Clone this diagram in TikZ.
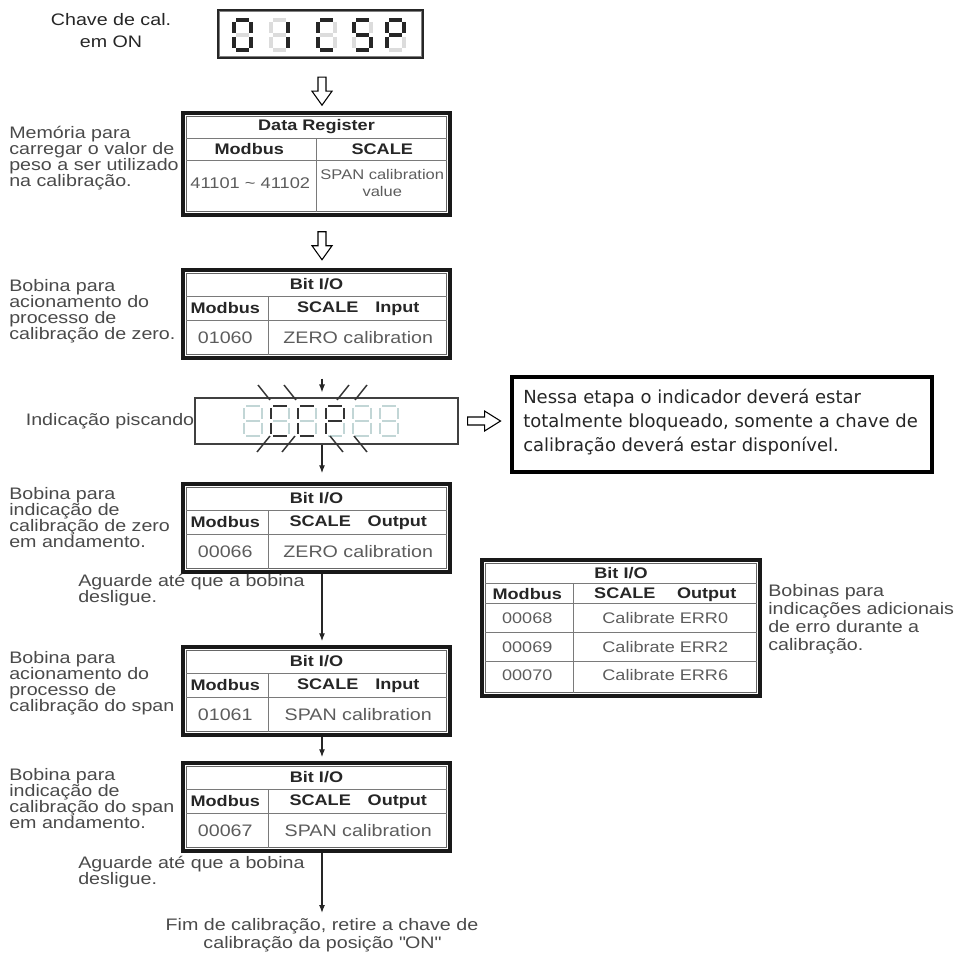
\documentclass[tikz,border=0pt]{standalone}
\usepackage{fontspec}
\setmainfont[FakeStretch=1.18]{Liberation Sans}
\newfontfamily\notefont{DejaVu Sans}
\usetikzlibrary{arrows.meta,positioning,calc,fit}
\definecolor{cinzatxt}{HTML}{4A4A4A}
\definecolor{cinzaval}{HTML}{5C5C5C}
\definecolor{cinzalin}{HTML}{7A7A7A}
\definecolor{apagado}{HTML}{DCDCDC}
\definecolor{apagadoaz}{HTML}{C2D6D6}

\tikzset{
  lbl/.style={font=\fontsize{12.5}{12}\selectfont, text=cinzatxt, align=left, anchor=north west, inner sep=0pt},
  cab/.style={font=\fontsize{11.5}{12}\selectfont\bfseries, text=black!85, inner sep=0pt},
  val/.style={font=\fontsize{12.5}{13}\selectfont, text=cinzaval, inner sep=0pt, align=center},
  valp/.style={val, font=\fontsize{11.5}{13}\selectfont},
  moldura/.style={draw=black!90, line width=2.6pt, inner sep=0pt},
  molint/.style={draw=black!60, line width=0.7pt},
  grade/.style={draw=cinzalin, line width=0.8pt},
  liga/.style={-{Latex[length=6pt,width=4.5pt]}, line width=0.9pt, draw=black!85},
  segon/.style={line width=2.8pt, draw=black!85},
  segoff/.style={line width=2.8pt, draw=apagado},
  piscon/.style={line width=1.7pt, draw=black!80},
  piscoff/.style={line width=1.7pt, draw=apagadoaz},
  brilho/.style={line width=1.1pt, draw=black!80},
  setabaixo/.pic={\draw[line width=0.8pt, fill=white] (-4,0) -- (-4,14) -- (-10,14) -- (0,28) -- (10,14) -- (4,14) -- (4,0) -- cycle;},
  setadir/.pic={\draw[line width=0.8pt, fill=white] (0,-4) -- (17,-4) -- (17,-10) -- (33,0) -- (17,10) -- (17,4) -- (0,4) -- cycle;},
}

% segmentos do display (unidade = 1 digito)
\newcommand{\sga}[1]{\draw[#1] (0.12,0) -- (0.88,0);}
\newcommand{\sgb}[1]{\draw[#1] (1,0.07) -- (1,0.44);}
\newcommand{\sgc}[1]{\draw[#1] (1,0.56) -- (1,0.93);}
\newcommand{\sgd}[1]{\draw[#1] (0.12,1) -- (0.88,1);}
\newcommand{\sge}[1]{\draw[#1] (0,0.56) -- (0,0.93);}
\newcommand{\sgf}[1]{\draw[#1] (0,0.07) -- (0,0.44);}
\newcommand{\sgg}[1]{\draw[#1] (0.12,0.5) -- (0.88,0.5);}
\newcommand{\sgx}[1]{}
\newcommand{\segdigit}[7]{%
  \begin{scope}[shift={(#1,#2)}, xscale=#3, yscale=#4]
    \foreach \s in {a,b,c,d,e,f,g} {\csname sg\s\endcsname{#5}}
    \foreach \s in {#7} {\csname sg\s\endcsname{#6}}
  \end{scope}}

% tabela Bit I/O: nome, topo, Input/Output, endereco, descricao
\newcommand{\bitio}[5]{%
  \node[moldura, fit={(183,#2) ({450},{#2+88})}] (#1) {};
  \draw[molint] ($(#1.north west)+(5,5)$) rectangle ($(#1.south east)+(-5,-5)$);
  \draw[grade] ($(#1.north west)+(5,28)$) -- ($(#1.north east)+(-5,28)$);
  \draw[grade] ($(#1.north west)+(5,52)$) -- ($(#1.north east)+(-5,52)$);
  \draw[grade] ($(#1.north west)+(87,28)$) -- ($(#1.south west)+(87,-5)$);
  \node[cab] (#1-tit) at ($(#1.north)+(0,16)$) {Bit I/O};
  \node[cab] (#1-mod) at ($(#1.north west)+(44,40)$) {Modbus};
  \node[cab] (#1-esc) at ($(#1.north west)+(177,40)$) {SCALE\hspace{1.1em}#3};
  \node[val] (#1-end) at ($(#1.north west)+(44,69)$) {#4};
  \node[val] (#1-desc) at ($(#1.north west)+(177,69)$) {#5};
}

\begin{document}
\begin{tikzpicture}[x=0.75pt,y=-0.75pt]
\useasboundingbox (0,0) rectangle (964,969);
\coordinate (eixo) at (322,0);

% chave de calibracao
\node[lbl, anchor=center, align=center, font=\fontsize{12.5}{16.5}\selectfont, text=black!85] (chave) at (111,31) {Chave de cal.\\em ON};
\node[draw=black!85, line width=1.8pt, inner sep=0pt, fit={(218,10) (423,58)}] (visor) {};
\draw[black!50, line width=0.5pt] ($(visor.north west)+(3,3)$) rectangle ($(visor.south east)+(-3,-3)$);
\segdigit{234}{20}{17}{30}{segoff}{segon}{a,b,c,d,e,f}
\segdigit{271}{20}{17}{30}{segoff}{segon}{b,c}
\segdigit{318}{20}{17}{30}{segoff}{segon}{a,d,e,f}
\segdigit{354}{20}{17}{30}{segoff}{segon}{a,c,d,f,g}
\segdigit{387}{20}{17}{30}{segoff}{segon}{a,b,e,f,g}
\pic at ($(visor.south -| eixo)+(0,18)$) {setabaixo};

% data register
\node[lbl] (memoria) at (9,126) {Memória para\\carregar o valor de\\peso a ser utilizado\\na calibração.};
\node[moldura, fit={(183,113) (450,215)}] (dreg) {};
\draw[molint] ($(dreg.north west)+(5,5)$) rectangle ($(dreg.south east)+(-5,-5)$);
\draw[grade] ($(dreg.north west)+(5,27)$) -- ($(dreg.north east)+(-5,27)$);
\draw[grade] ($(dreg.north west)+(5,49)$) -- ($(dreg.north east)+(-5,49)$);
\draw[grade] ($(dreg.north west)+(135,27)$) -- ($(dreg.south west)+(135,-5)$);
\node[cab] (dreg-tit) at ($(dreg.north)+(0,15)$) {Data Register};
\node[cab] (dreg-mod) at ($(dreg.north west)+(68,38)$) {Modbus};
\node[cab] (dreg-esc) at ($(dreg.north west)+(201,38)$) {SCALE};
\node[val, font=\fontsize{11.6}{13}\selectfont] (dreg-end) at ($(dreg.north west)+(69,72)$) {41101 \textasciitilde\ 41102};
\node[valp, font=\fontsize{10.5}{13}\selectfont] (dreg-desc) at ($(dreg.north west)+(201,72)$) {SPAN calibration\\value};
\pic at ($(dreg.south -| eixo)+(0,15)$) {setabaixo};

% zero
\node[lbl] (bob-zin) at (9,279) {Bobina para\\acionamento do\\processo de\\calibração de zero.};
\bitio{zeroin}{270}{Input}{01060}{ZERO calibration}

% display piscando
\node[draw=black!75, line width=0.8pt, inner sep=0pt, fit={(195,398) (458,444)}] (pisca) {};
\node[lbl, anchor=east] (piscando) at (pisca.west) {Indicação piscando};
\segdigit{244}{406}{18}{30}{piscoff}{piscon}{x}
\segdigit{271}{406}{18}{30}{piscoff}{piscon}{a,d,e,f}
\segdigit{298}{406}{18}{30}{piscoff}{piscon}{a,d,e,f}
\segdigit{326}{406}{18}{30}{piscoff}{piscon}{a,b,e,f,g}
\segdigit{353}{406}{18}{30}{piscoff}{piscon}{x}
\segdigit{380}{406}{18}{30}{piscoff}{piscon}{x}
\draw[brilho] (258,385) -- (270,400);
\draw[brilho] (284,385) -- (296,400);
\draw[brilho] (337,400) -- (349,385);
\draw[brilho] (355,400) -- (367,385);
\draw[brilho] (257,452) -- (270,436);
\draw[brilho] (282,452) -- (295,436);
\draw[brilho] (330,436) -- (343,452);
\draw[brilho] (354,436) -- (367,452);
\pic at ($(pisca.east)+(9,0)$) {setadir};

% aviso
\node[draw=black, line width=3pt, inner sep=0pt, fit={(512,377) (932,472)}] (nota) {};
\node[font=\notefont\fontsize{13.5}{18}\selectfont, text=black!85, align=left, anchor=north west, inner sep=0pt] (notatxt) at (523,389) {Nessa etapa o indicador deverá estar\\totalmente bloqueado, somente a chave de\\calibração deverá estar disponível.};

\node[lbl] (bob-zout) at (9,487) {Bobina para\\indicação de\\calibração de zero\\em andamento.};
\bitio{zeroout}{484}{Output}{00066}{ZERO calibration}
\node[lbl] (aguarde1) at (78,574) {Aguarde até que a bobina\\desligue.};

% span
\node[lbl] (bob-sin) at (9,651) {Bobina para\\acionamento do\\processo de\\calibração do span};
\bitio{spanin}{647}{Input}{01061}{SPAN calibration}
\node[lbl] (bob-sout) at (9,768) {Bobina para\\indicação de\\calibração do span\\em andamento.};
\bitio{spanout}{763}{Output}{00067}{SPAN calibration}
\node[lbl] (aguarde2) at (78,856) {Aguarde até que a bobina\\desligue.};
\node[lbl, anchor=north, align=center, font=\fontsize{12.5}{13.5}\selectfont] (fim) at (322,918) {Fim de calibração, retire a chave de\\calibração da posição \textquotedbl ON\textquotedbl};

% erros
\node[moldura, fit={(482,560) (760,696)}] (erros) {};
\draw[molint] ($(erros.north west)+(5,5)$) rectangle ($(erros.south east)+(-5,-5)$);
\draw[grade] ($(erros.north west)+(5,25)$) -- ($(erros.north east)+(-5,25)$);
\draw[grade] ($(erros.north west)+(5,45)$) -- ($(erros.north east)+(-5,45)$);
\draw[grade] ($(erros.north west)+(5,74)$) -- ($(erros.north east)+(-5,74)$);
\draw[grade] ($(erros.north west)+(5,103)$) -- ($(erros.north east)+(-5,103)$);
\draw[grade] ($(erros.north west)+(93,25)$) -- ($(erros.south west)+(93,-5)$);
\node[cab] (erros-tit) at ($(erros.north)+(0,15)$) {Bit I/O};
\node[cab] (erros-mod) at ($(erros.north west)+(47,36)$) {Modbus};
\node[cab] (erros-esc) at ($(erros.north west)+(185,36)$) {SCALE\hspace{1.4em}Output};
\node[valp] (erro0-end) at ($(erros.north west)+(47,60)$) {00068};
\node[valp] (erro0-desc) at ($(erros.north west)+(185,60)$) {Calibrate ERR0};
\node[valp] (erro2-end) at ($(erros.north west)+(47,89)$) {00069};
\node[valp] (erro2-desc) at ($(erros.north west)+(185,89)$) {Calibrate ERR2};
\node[valp] (erro6-end) at ($(erros.north west)+(47,117)$) {00070};
\node[valp] (erro6-desc) at ($(erros.north west)+(185,117)$) {Calibrate ERR6};
\node[lbl, font=\fontsize{12.5}{13.5}\selectfont] (bobinas) at (768,584) {Bobinas para\\indicações adicionais\\de erro durante a\\calibração.};

% ligacoes
\draw[liga] ($(zeroin.south -| eixo)+(0,19)$) -- ($(pisca.north -| eixo)+(0,-5)$);
\draw[liga] (pisca.south -| eixo) -- ($(zeroout.north -| eixo)+(0,-9)$);
\draw[liga] (zeroout.south -| eixo) -- ($(spanin.north -| eixo)+(0,-4)$);
\draw[liga] (spanin.south -| eixo) -- ($(spanout.north -| eixo)+(0,-4)$);
\draw[liga] (spanout.south -| eixo) -- ($(fim.north -| eixo)+(0,-5)$);
\end{tikzpicture}
\end{document}
